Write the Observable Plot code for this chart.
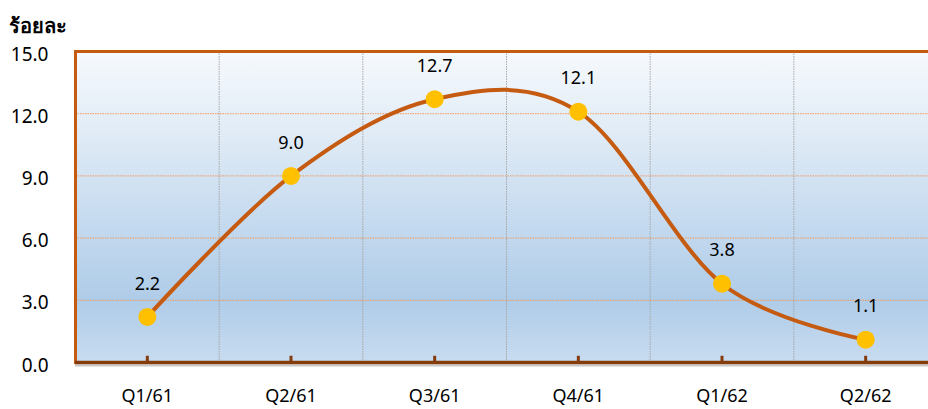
<!DOCTYPE html>
<html>
<head>
<meta charset="utf-8">
<script src="https://cdn.jsdelivr.net/npm/d3@7"></script>
<script src="https://cdn.jsdelivr.net/npm/@observablehq/plot@0.6"></script>
<style>
  html, body { margin: 0; padding: 0; background: #fff; }
  #chart svg { display: block; }
</style>
</head>
<body>
<div id="chart"></div>
<script>
const quarters = ["Q1/61", "Q2/61", "Q3/61", "Q4/61", "Q1/62", "Q2/62"];
const values = [2.2, 9.0, 12.7, 12.1, 3.8, 1.1];
const yTicks = [0, 3, 6, 9, 12, 15];
const unitLabel = "ร้อยละ";

const data = quarters.map((q, i) => ({q, i, v: values[i]}));
const boundaries = d3.range(0.5, quarters.length - 1, 1);
const font = "'Noto Sans', 'Open Sans', sans-serif";

const defs = () => {
  const d = d3.create("svg:defs");
  const g = d.append("linearGradient").attr("id", "bg").attr("x1", 0).attr("x2", 0).attr("y1", 0).attr("y2", 1);
  [[0, "#f6f9fd"], [0.25, "#e1ecf6"], [0.55, "#c5daef"], [0.8, "#afcce8"], [1, "#c8dcf0"]]
    .forEach(([o, c]) => g.append("stop").attr("offset", o).attr("stop-color", c));
  return d.node();
};

const chart = Plot.plot({
  width: 928,
  height: 409,
  marginLeft: 75,
  marginRight: -9,
  marginTop: 51,
  marginBottom: 47,
  style: {fontFamily: font, fontSize: "19px", color: "#000", background: "#fff"},
  x: {domain: [-0.5, quarters.length - 0.5], axis: null},
  y: {domain: [0, 15], axis: null},
  marks: [
    defs,
    Plot.frame({fill: "url(#bg)", stroke: "none"}),
    Plot.ruleY(yTicks.filter(t => t > 0 && t < 15), {stroke: "#f19a5e", strokeWidth: 1, strokeDasharray: "1.5,1"}),
    Plot.ruleX(boundaries, {stroke: "#a8a8a8", strokeWidth: 1, strokeDasharray: "1.5,1"}),
    Plot.frame({stroke: "#c55a11", strokeWidth: 3}),
    Plot.ruleY([0], {stroke: "#c8c8c8", strokeWidth: 2, dy: 3}),
    Plot.ruleY([0], {stroke: "#843c0c", strokeWidth: 3.5}),
    Plot.ruleX(data, {x: "i", y1: 0, y2: 0.3, stroke: "#843c0c", strokeWidth: 3}),
    Plot.axisY(yTicks, {label: null, tickSize: 0, tickPadding: 27, tickFormat: d3.format(".1f"), fontSize: 19, dy: 3}),
    Plot.axisX(data.map(d => d.i), {label: null, tickSize: 0, tickPadding: 27, tickFormat: i => quarters[i], fontSize: 18}),
    Plot.line(data, {x: "i", y: "v", curve: "cardinal", tension: 0, stroke: "#c55a11", strokeWidth: 4}),
    Plot.dot(data, {x: "i", y: "v", r: 9, fill: "#ffc000", stroke: "none"}),
    Plot.text(data, {x: "i", y: "v", text: d => d.v.toFixed(1), dy: -33, fontSize: 18, fill: "#000"}),
    Plot.text([unitLabel], {frameAnchor: "top-left", dx: -67, dy: -33, textAnchor: "start", fontSize: 20, fontWeight: "bold", fill: "#000"})
  ]
});
document.getElementById("chart").appendChild(chart);
</script>
</body>
</html>
